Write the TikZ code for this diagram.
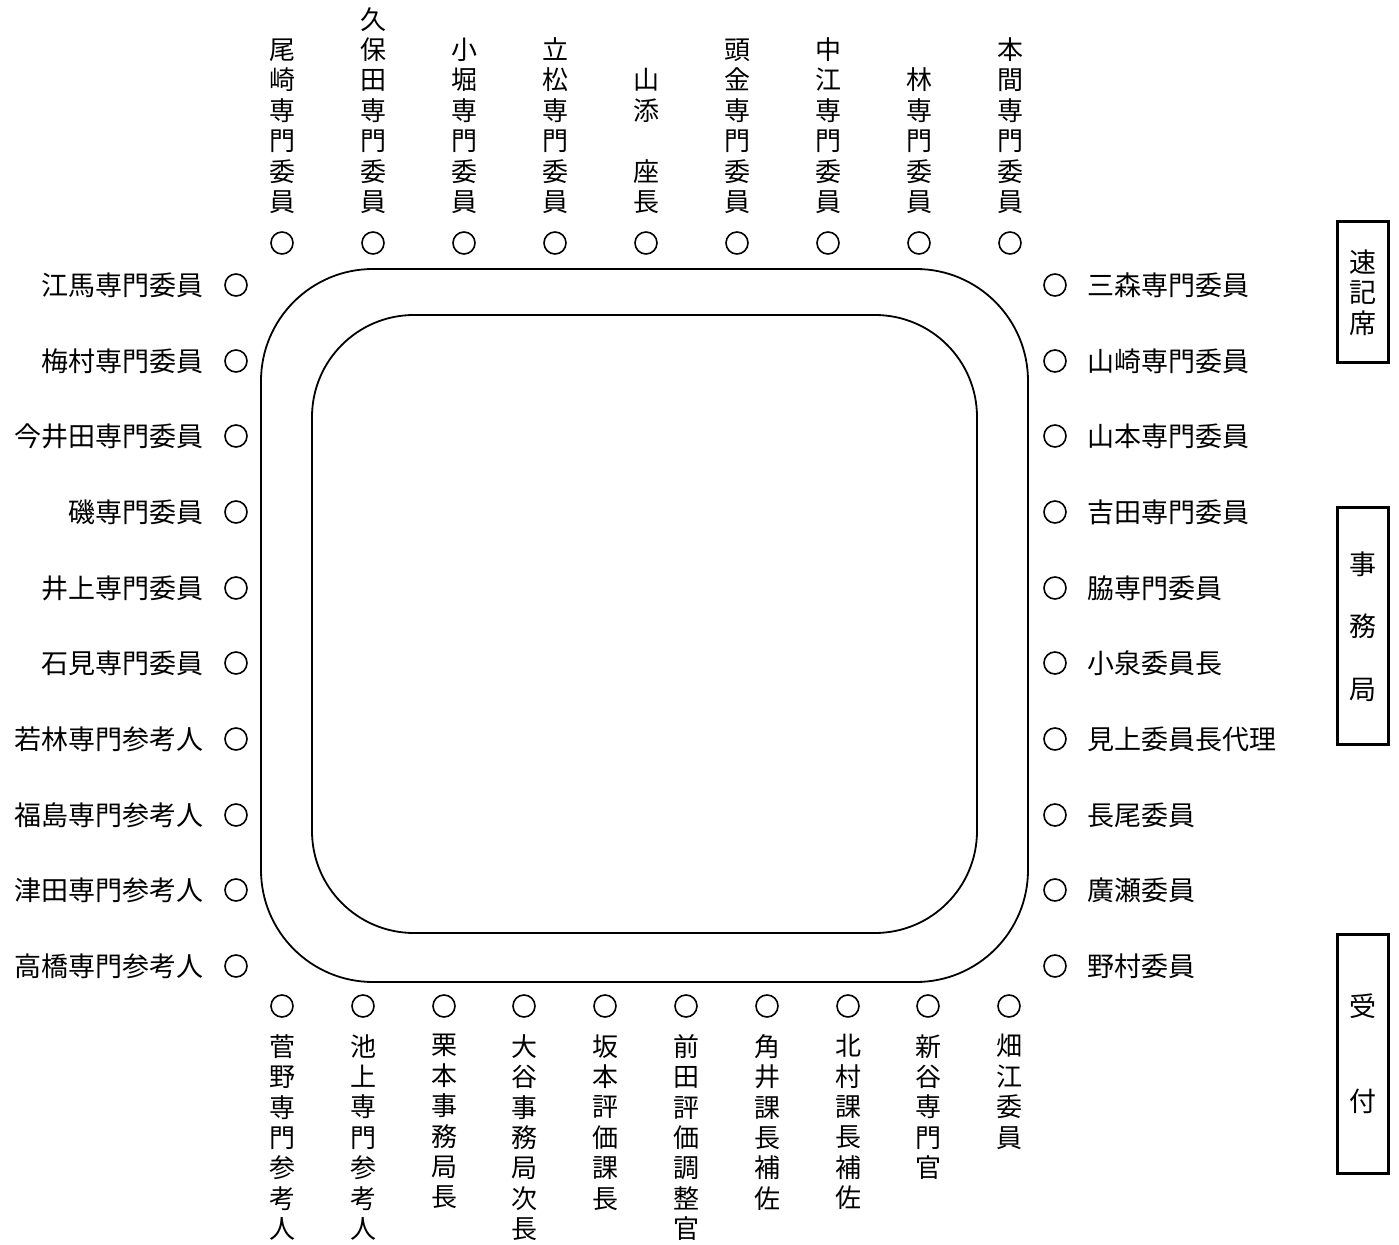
\documentclass[tikz,border=0pt]{standalone}
\usepackage{fontspec}
\setmainfont{Noto Sans CJK JP}

\begin{document}
\begin{tikzpicture}[x=0.5pt,y=-0.5pt,
	every node/.style={font=\fontsize{13.5}{15.3}\selectfont},
	seat/.style={draw,circle,line width=0.8pt,minimum size=11pt,inner sep=0pt},
	namel/.style={anchor=east,inner sep=0pt},
	namer/.style={anchor=west,inner sep=0pt},
	namet/.style={anchor=south,inner sep=0pt,align=center,font=\fontsize{13}{15.2}\selectfont},
	nameb/.style={anchor=north,inner sep=0pt,align=center,font=\fontsize{13}{15.2}\selectfont},
	sidebox/.style={draw,line width=1.5pt,minimum width=25.5pt,inner sep=0pt,align=center}]
			%%%%% START %%%%%
			\useasboundingbox (0,0) rectangle (1399,1245);
			
			% table
			\draw[line width=0.9pt, rounded corners=56pt] (261,269) rectangle (1028,982);
			\draw[line width=0.9pt, rounded corners=51pt] (312,315) rectangle (977,933);
			
			% top row
			\node[seat] (t1) at (282,243) {};
			\node[namet] (tn1) at (282,214) {尾\\崎\\専\\門\\委\\員};
			\node[seat] (t2) at (373,243) {};
			\node[namet] (tn2) at (373,214) {久\\保\\田\\専\\門\\委\\員};
			\node[seat] (t3) at (464,243) {};
			\node[namet] (tn3) at (464,214) {小\\堀\\専\\門\\委\\員};
			\node[seat] (t4) at (555,243) {};
			\node[namet] (tn4) at (555,214) {立\\松\\専\\門\\委\\員};
			\node[seat] (t5) at (646,243) {};
			\node[namet] (tn5) at (646,214) {山\\添\\[15.2pt]座\\長};
			\node[seat] (t6) at (737,243) {};
			\node[namet] (tn6) at (737,214) {頭\\金\\専\\門\\委\\員};
			\node[seat] (t7) at (828,243) {};
			\node[namet] (tn7) at (828,214) {中\\江\\専\\門\\委\\員};
			\node[seat] (t8) at (919,243) {};
			\node[namet] (tn8) at (919,214) {林\\専\\門\\委\\員};
			\node[seat] (t9) at (1010,243) {};
			\node[namet] (tn9) at (1010,214) {本\\間\\専\\門\\委\\員};
			
			% left side
			\node[seat] (l1) at (236,285) {};
			\node[namel] (ln1) at (204,285) {江馬専門委員};
			\node[seat] (l2) at (236,361) {};
			\node[namel] (ln2) at (204,361) {梅村専門委員};
			\node[seat] (l3) at (236,436) {};
			\node[namel] (ln3) at (204,436) {今井田専門委員};
			\node[seat] (l4) at (236,512) {};
			\node[namel] (ln4) at (204,512) {磯専門委員};
			\node[seat] (l5) at (236,588) {};
			\node[namel] (ln5) at (204,588) {井上専門委員};
			\node[seat] (l6) at (236,663) {};
			\node[namel] (ln6) at (204,663) {石見専門委員};
			\node[seat] (l7) at (236,739) {};
			\node[namel] (ln7) at (204,739) {若林専門参考人};
			\node[seat] (l8) at (236,815) {};
			\node[namel] (ln8) at (204,815) {福島専門参考人};
			\node[seat] (l9) at (236,890) {};
			\node[namel] (ln9) at (204,890) {津田専門参考人};
			\node[seat] (l10) at (236,966) {};
			\node[namel] (ln10) at (204,966) {高橋専門参考人};
			
			% right side
			\node[seat] (r1) at (1055,285) {};
			\node[namer] (rn1) at (1087,285) {三森専門委員};
			\node[seat] (r2) at (1055,361) {};
			\node[namer] (rn2) at (1087,361) {山崎専門委員};
			\node[seat] (r3) at (1055,436) {};
			\node[namer] (rn3) at (1087,436) {山本専門委員};
			\node[seat] (r4) at (1055,512) {};
			\node[namer] (rn4) at (1087,512) {吉田専門委員};
			\node[seat] (r5) at (1055,588) {};
			\node[namer] (rn5) at (1087,588) {脇専門委員};
			\node[seat] (r6) at (1055,663) {};
			\node[namer] (rn6) at (1087,663) {小泉委員長};
			\node[seat] (r7) at (1055,739) {};
			\node[namer] (rn7) at (1087,739) {見上委員長代理};
			\node[seat] (r8) at (1055,815) {};
			\node[namer] (rn8) at (1087,815) {長尾委員};
			\node[seat] (r9) at (1055,890) {};
			\node[namer] (rn9) at (1087,890) {廣瀬委員};
			\node[seat] (r10) at (1055,966) {};
			\node[namer] (rn10) at (1087,966) {野村委員};
			
			% bottom row
			\node[seat] (b1) at (282,1006) {};
			\node[nameb] (bn1) at (282,1034) {菅\\野\\専\\門\\参\\考\\人};
			\node[seat] (b2) at (363,1006) {};
			\node[nameb] (bn2) at (363,1034) {池\\上\\専\\門\\参\\考\\人};
			\node[seat] (b3) at (444,1006) {};
			\node[nameb] (bn3) at (444,1034) {栗\\本\\事\\務\\局\\長};
			\node[seat] (b4) at (524,1006) {};
			\node[nameb] (bn4) at (524,1034) {大\\谷\\事\\務\\局\\次\\長};
			\node[seat] (b5) at (605,1006) {};
			\node[nameb] (bn5) at (605,1034) {坂\\本\\評\\価\\課\\長};
			\node[seat] (b6) at (686,1006) {};
			\node[nameb] (bn6) at (686,1034) {前\\田\\評\\価\\調\\整\\官};
			\node[seat] (b7) at (767,1006) {};
			\node[nameb] (bn7) at (767,1034) {角\\井\\課\\長\\補\\佐};
			\node[seat] (b8) at (848,1006) {};
			\node[nameb] (bn8) at (848,1034) {北\\村\\課\\長\\補\\佐};
			\node[seat] (b9) at (928,1006) {};
			\node[nameb] (bn9) at (928,1034) {新\\谷\\専\\門\\官};
			\node[seat] (b10) at (1009,1006) {};
			\node[nameb] (bn10) at (1009,1034) {畑\\江\\委\\員};
			
			% boxes at the right
			\node[sidebox, minimum height=70.5pt] (sokki) at (1362.5,292.5) {速\\記\\席};
			\node[sidebox, minimum height=118.5pt] (jimu) at (1362.5,626.5) {事\\[16pt]務\\[16pt]局};
			\node[sidebox, minimum height=119pt] (uketsuke) at (1362.5,1054) {受\\[32pt]付};
			
			%%%%% END %%%%%
		\end{tikzpicture}
\end{document}
